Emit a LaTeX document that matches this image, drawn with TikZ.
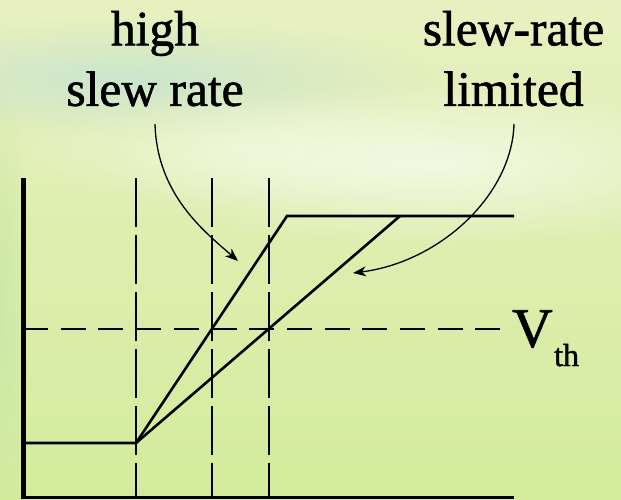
\documentclass[tikz,border=0pt]{standalone}
\usepackage{fontspec}
\setmainfont{Liberation Serif}[FakeBold=1.3]
\usetikzlibrary{arrows.meta,fadings}
\tikzfading[name=softblob, inner color=transparent!0, outer color=transparent!100]
\definecolor{bgtop}{RGB}{232,240,192}
\definecolor{bgbot}{RGB}{210,236,156}
\definecolor{bluish}{RGB}{192,226,214}
\definecolor{leafg}{RGB}{196,230,168}
\begin{document}
\begin{tikzpicture}[x=1pt,y=-1pt,
  sig/.style={line width=2.6pt},
  gridline/.style={line width=2pt, dash pattern=on 49pt off 8pt},
  thr/.style={line width=2.2pt, dash pattern=on 25pt off 12.7pt},
  axisline/.style={line width=5pt},
  callout/.style={line width=1.3pt, -{Stealth[length=13pt,width=10pt,inset=4pt]}},
  lbl/.style={font=\fontsize{49.5}{60.5}\selectfont, align=center, inner sep=0pt, text depth=0pt, anchor=south}]
\useasboundingbox (0,0) rectangle (621,499);
% background
\shade[top color=bgtop, bottom color=bgbot] (0,0) rectangle (621,499);
\fill[bluish, opacity=0.7, path fading=softblob] (130,78) ellipse [x radius=300, y radius=60];
\fill[white, opacity=0.6, path fading=softblob] (440,165) ellipse [x radius=330, y radius=85];
\fill[white, opacity=0.35, path fading=softblob] (250,150) ellipse [x radius=260, y radius=60];
\fill[leafg, opacity=0.7, path fading=softblob] (0,300) ellipse [x radius=30, y radius=220];
% text labels
\node[lbl] (hsr) at (155,106) {high\\slew rate};
\node[lbl] (srl) at (513.5,106) {slew-rate\\limited};
\node[inner sep=0pt, anchor=base west] (vth) at (512,347)
  {\fontsize{56}{56}\selectfont V\kern1.5pt\raisebox{-19pt}{\fontsize{32}{32}\selectfont th}};
% coordinates
\coordinate (ytop) at (23,178);
\coordinate (origin) at (23,497);
\coordinate (xend) at (514,497);
\coordinate (lowL) at (25,443);
\coordinate (start) at (136,443);
\coordinate (fastTop) at (287,216);
\coordinate (slowTop) at (400,216);
\coordinate (highEnd) at (514,216);
\coordinate (thL) at (23,329);
\coordinate (thR) at (502,329);
\coordinate (g1t) at (136,178); \coordinate (g1b) at (136,499);
\coordinate (g2t) at (212,178); \coordinate (g2b) at (212,499);
\coordinate (g3t) at (269,178); \coordinate (g3b) at (269,499);
\coordinate (a1s) at (155,124);
\coordinate (a1e) at (238,261);
\coordinate (a2s) at (514,124);
\coordinate (a2e) at (353,273);
% grid and threshold
\draw[gridline] (g1t) -- (g1b);
\draw[gridline] (g2t) -- (g2b);
\draw[gridline] (g3t) -- (g3b);
\draw[thr] (thL) -- (thR);
% axes
\draw[axisline] (ytop) -- (23,499);
\draw[line width=3pt] (origin) -- (xend);
% signals
\draw[sig, line join=miter] (lowL) -- (start) -- (fastTop) -- (highEnd);
\draw[sig] (start) -- (slowTop);
% callouts
\draw[callout] (a1s) .. controls (157,195) and (205,232) .. (a1e);
\draw[callout] (a2s) .. controls (512,195) and (440,262) .. (a2e);
\end{tikzpicture}
\end{document}
